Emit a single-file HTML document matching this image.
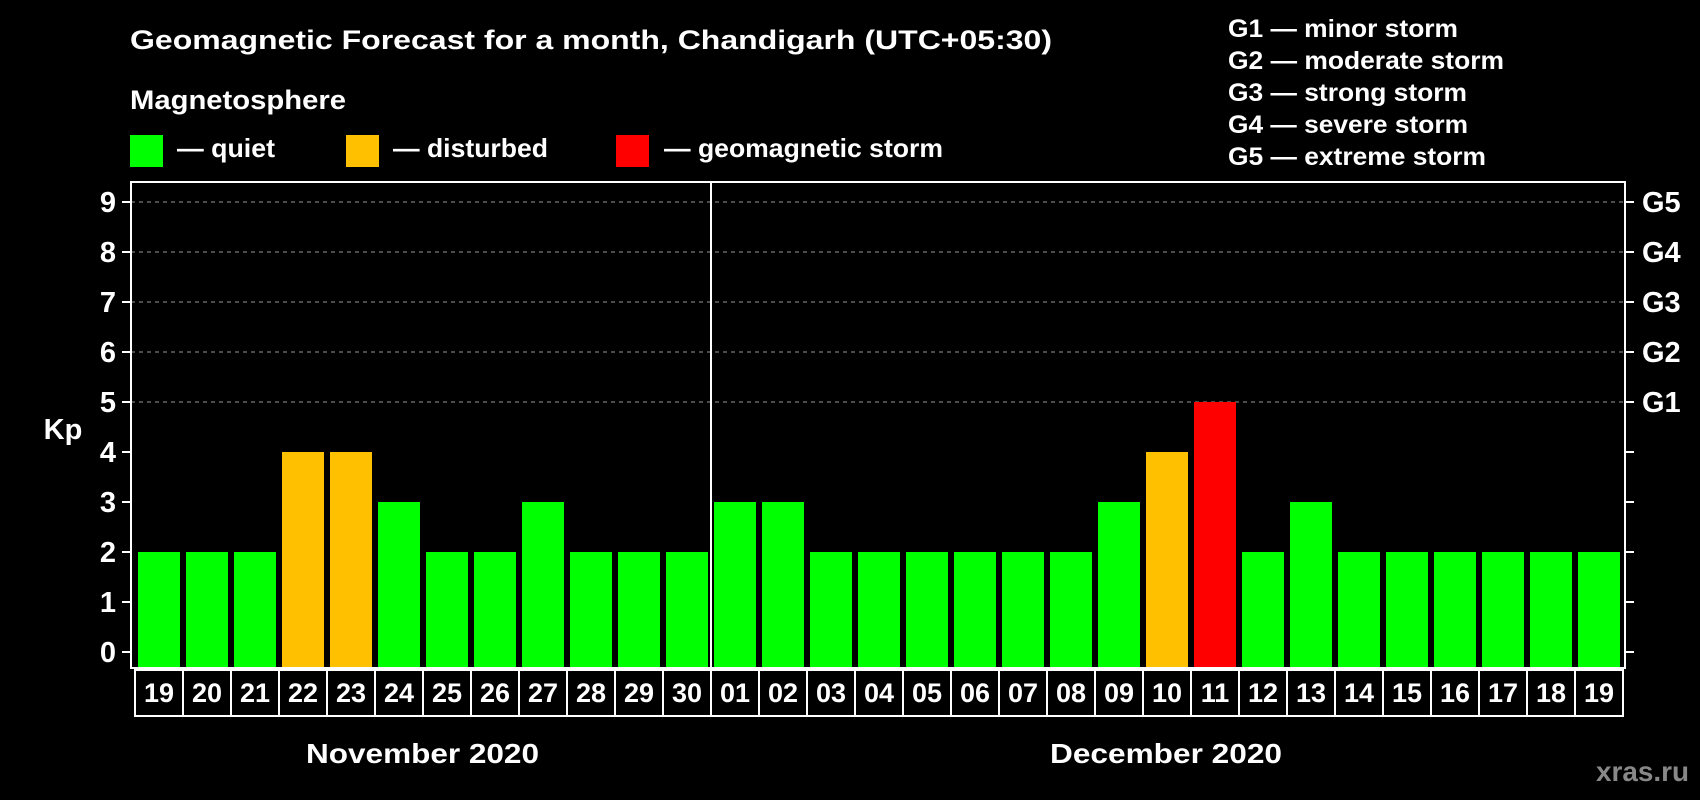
<!DOCTYPE html>
<html><head><meta charset="utf-8"><style>
html,body{margin:0;padding:0;background:#000;}
svg{display:block;font-family:"Liberation Sans",Arial,sans-serif;font-weight:bold;}
</style></head><body>
<svg id="chart" width="1700" height="800" viewBox="0 0 1700 800">
<rect width="1700" height="800" fill="#000"/>
<text x="130" y="49" fill="#fff" font-size="27" textLength="922" lengthAdjust="spacingAndGlyphs">Geomagnetic Forecast for a month, Chandigarh (UTC+05:30)</text>
<text x="130" y="109" fill="#fff" font-size="27" textLength="216" lengthAdjust="spacingAndGlyphs">Magnetosphere</text>
<g><rect x="130" y="135" width="33" height="32" fill="#00ff00"/><text x="177" y="157" fill="#fff" font-size="26" textLength="98" lengthAdjust="spacingAndGlyphs">— quiet</text></g>
<g><rect x="346" y="135" width="33" height="32" fill="#ffc000"/><text x="393" y="157" fill="#fff" font-size="26" textLength="155" lengthAdjust="spacingAndGlyphs">— disturbed</text></g>
<g><rect x="616" y="135" width="33" height="32" fill="#ff0000"/><text x="664" y="157" fill="#fff" font-size="26" textLength="279" lengthAdjust="spacingAndGlyphs">— geomagnetic storm</text></g>
<g fill="#fff" font-size="25">
<text x="1228" y="37" textLength="230" lengthAdjust="spacingAndGlyphs">G1 — minor storm</text>
<text x="1228" y="69" textLength="276" lengthAdjust="spacingAndGlyphs">G2 — moderate storm</text>
<text x="1228" y="101" textLength="239" lengthAdjust="spacingAndGlyphs">G3 — strong storm</text>
<text x="1228" y="133" textLength="240" lengthAdjust="spacingAndGlyphs">G4 — severe storm</text>
<text x="1228" y="165" textLength="258" lengthAdjust="spacingAndGlyphs">G5 — extreme storm</text>
</g>
<text x="63" y="439" fill="#fff" font-size="29" text-anchor="middle">Kp</text>
<g id="grid"></g><g id="bars"></g><g id="axes"></g><g id="dates"></g>
<text x="306" y="763" fill="#fff" font-size="28" textLength="233" lengthAdjust="spacingAndGlyphs">November 2020</text>
<text x="1050" y="763" fill="#fff" font-size="28" textLength="232" lengthAdjust="spacingAndGlyphs">December 2020</text>
<text x="1596" y="781" fill="#888" font-size="28" textLength="93" lengthAdjust="spacingAndGlyphs">xras.ru</text>
</svg>
<script>
const days = ["19","20","21","22","23","24","25","26","27","28","29","30","01","02","03","04","05","06","07","08","09","10","11","12","13","14","15","16","17","18","19"];
const kp = [2,2,2,4,4,3,2,2,3,2,2,2,3,3,2,2,2,2,2,2,3,4,5,2,3,2,2,2,2,2,2];
const yTicks = [0,1,2,3,4,5,6,7,8,9];
const gLabels = ["G1","G2","G3","G4","G5"];
const NS="http://www.w3.org/2000/svg";
const L=131,R=1625,T=182,B=668,x0=138,pitch=48,bw=42;
function y(v){return 652 - v*50;}
function xb(i){return x0+i*pitch;}
function mk(tag,attrs,parent){const e=document.createElementNS(NS,tag);for(const k in attrs)e.setAttribute(k,attrs[k]);document.getElementById(parent).appendChild(e);return e;}
yTicks.forEach(v=>{
  if(v>=5){const g=mk('line',{x1:L,x2:R,y1:y(v),y2:y(v),stroke:'#999','stroke-dasharray':'4 4','stroke-width':1},'grid');
    
    }
  const t1=mk('line',{x1:L-9,x2:L,y1:y(v),y2:y(v),stroke:'#fff','stroke-width':2},'axes');
  
  
  const t2=mk('line',{x1:R,x2:R+9,y1:y(v),y2:y(v),stroke:'#fff','stroke-width':2},'axes');
  
  
  const lb=mk('text',{x:116,y:y(v)+10,fill:'#fff','font-size':29,'text-anchor':'end'},'axes');
  lb.textContent=v;
  
  
  if(v>=5){const gl=mk('text',{x:1642,y:y(v)+10,fill:'#fff','font-size':29},'axes');
    gl.textContent=gLabels[v-5];
    
    }
});
kp.forEach((v,i)=>{
  const c=v>=5?'#ff0000':(v>=4?'#ffc000':'#00ff00');
  const r=mk('rect',{x:xb(i),y:y(v),width:bw,height:B-1-y(v),fill:c},'bars');
  
  
  const bx=mk('rect',{x:xb(i)-3,y:670,width:pitch,height:46,fill:'none',stroke:'#fff','stroke-width':2},'dates');
  
  
  const t=mk('text',{x:xb(i)+bw/2,y:702,fill:'#fff','font-size':27,'text-anchor':'middle'},'dates');
  t.textContent=days[i];
  
  
});
const fr=mk('rect',{x:L,y:T,width:R-L,height:B-T,fill:'none',stroke:'#fff','stroke-width':2},'axes');


const dv=mk('line',{x1:xb(12)-3,x2:xb(12)-3,y1:T,y2:B,stroke:'#fff','stroke-width':2},'axes');


</script>
</body></html>
